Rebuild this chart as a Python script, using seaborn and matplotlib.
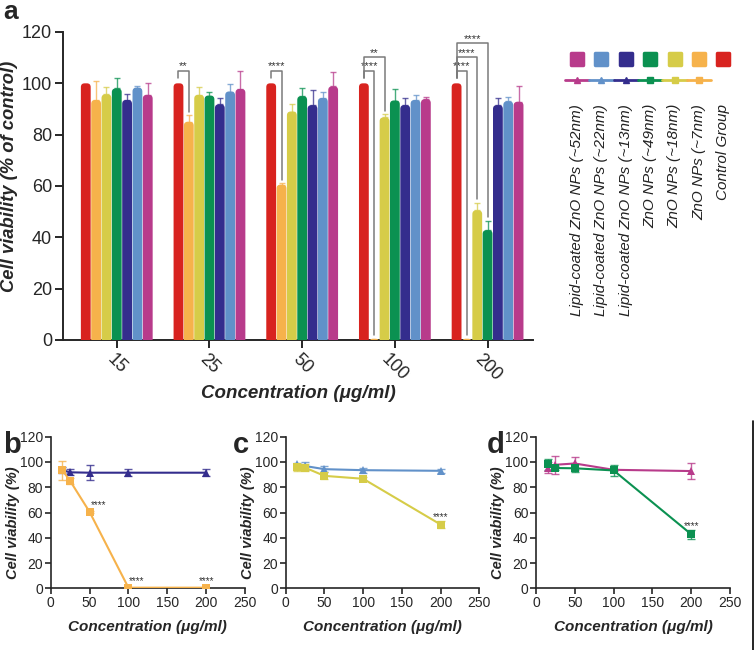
import pandas as pd
import seaborn as sns
import matplotlib.pyplot as plt
from matplotlib.lines import Line2D
from matplotlib.markers import MarkerStyle
from matplotlib.patches import FancyBboxPatch

# data
concs = [15, 25, 50, 100, 200]
conc_labels = ["15", "25", "50", "100", "200"]

groups = ["Control Group", "ZnO NPs (~7nm)", "ZnO NPs (~18nm)", "ZnO NPs (~49nm)",
          "Lipid-coated ZnO NPs (~13nm)", "Lipid-coated ZnO NPs (~22nm)",
          "Lipid-coated ZnO NPs (~52nm)"]
colors = ["#d8231f", "#f6b24b", "#d6cc48", "#0b9151", "#342d8d", "#6191c9", "#b83b8b"]

control_mean = [100, 100, 100, 100, 100]
control_sd = [0, 0, 0, 0, 0]
zno7_mean = [93.5, 85.0, 60.5, 0.5, 0.5]
zno7_sd = [7.5, 2.5, 0.5, 0, 0]
zno18_mean = [95.7, 95.5, 89.0, 86.7, 50.5]
zno18_sd = [2.8, 3.0, 2.8, 1.2, 3.0]
zno49_mean = [98.0, 95.2, 95.0, 93.3, 42.8]
zno49_sd = [4.0, 1.5, 3.0, 4.5, 3.5]
lip13_mean = [93.5, 91.8, 91.5, 91.5, 91.5]
lip13_sd = [2.5, 2.5, 5.8, 2.8, 2.7]
lip22_mean = [98.3, 96.8, 94.3, 93.5, 93.0]
lip22_sd = [0.5, 3.0, 2.5, 2.0, 1.5]
lip52_mean = [95.5, 97.8, 98.8, 93.8, 92.8]
lip52_sd = [4.5, 7.0, 5.5, 1.0, 6.0]

means = [control_mean, zno7_mean, zno18_mean, zno49_mean, lip13_mean, lip22_mean, lip52_mean]
sds = [control_sd, zno7_sd, zno18_sd, zno49_sd, lip13_sd, lip22_sd, lip52_sd]

# significance vs control in panel a
sig_conc = ["25", "50", "100", "100", "200", "200", "200"]
sig_group = [1, 1, 1, 2, 1, 2, 3]
sig_level = [0, 0, 0, 1, 0, 1, 2]
sig_text = ["**", "****", "****", "**", "****", "****", "****"]

rows = []
for g, m, s in zip(groups, means, sds):
    for c, cl, v, e in zip(concs, conc_labels, m, s):
        rows.append({"Group": g, "Conc": c, "ConcLabel": cl, "Viability": v, "SD": e})
df = pd.DataFrame(rows)

sns.set_style("ticks")
plt.rcParams["font.family"] = ["Liberation Sans", "DejaVu Sans"]
plt.rcParams["axes.linewidth"] = 1.4

W, H = 756, 650
fig = plt.figure(figsize=(W / 100, H / 100), dpi=100)


def rect(x0, y0, x1, y1):
    return [x0 / W, 1 - y1 / H, (x1 - x0) / W, (y1 - y0) / H]


# ---------- panel a ----------
ax = fig.add_axes(rect(63, 32, 533, 340))
sns.barplot(data=df, x="ConcLabel", y="Viability", hue="Group", order=conc_labels,
            hue_order=groups, palette=colors, saturation=1, width=0.78, gap=0.05,
            errorbar=None, legend=False, ax=ax)
xlim = (-0.58, 4.49)
ax.set_xlim(*xlim)
ax.set_ylim(0, 120)
aspect = (120 / (340 - 32)) / ((xlim[1] - xlim[0]) / (533 - 63))

centers = {}
bar_conts = list(ax.containers)
for k, cont in enumerate(bar_conts):
    for i, bar in enumerate(cont):
        x, w, h = bar.get_x(), bar.get_width(), bar.get_height()
        bar.set_visible(False)
        ax.add_patch(FancyBboxPatch((x, -5), w, h + 5,
                                    boxstyle=f"round,pad=0,rounding_size={w * 0.38}",
                                    mutation_aspect=aspect, fc=colors[k], ec="none",
                                    zorder=3))
        centers[(conc_labels[i], k)] = x + w / 2
        if sds[k][i] > 0:
            ax.errorbar(x + w / 2, h, yerr=[[0], [sds[k][i]]], color=colors[k],
                        alpha=0.75, lw=1, capsize=2, capthick=1, zorder=2)

for cl, gi, lev, txt in zip(sig_conc, sig_group, sig_level, sig_text):
    x0 = centers[(cl, 0)]
    x1 = centers[(cl, gi)]
    i = conc_labels.index(cl)
    hy = 105 + 5.3 * lev
    yb = means[gi][i] + sds[gi][i] + 1.5
    ax.plot([x0, x0, x1, x1], [102, hy, hy, yb], color="#7a7a7a", lw=1.1,
            zorder=4, clip_on=False)
    ax.text((x0 + x1) / 2, hy - 0.3, txt, ha="center", va="bottom", fontsize=8,
            color="#333333")

sns.despine(ax=ax)
ax.set_yticks(range(0, 121, 20))
ax.tick_params(axis="both", labelsize=13, length=6, width=1.4, pad=2)
plt.setp(ax.get_xticklabels(), rotation=-45, ha="center")
ax.set_xlabel("Concentration (μg/ml)", fontsize=13.5, fontweight="bold", style="italic",
              labelpad=0)
ax.set_ylabel("Cell viability (% of control)", fontsize=13.2, fontweight="bold",
              style="italic")
ax.yaxis.set_label_coords(-0.095, (340 - 176) / 308)
fig.text(3 / W, 1 - 12 / H, "a", fontsize=19, fontweight="bold", va="center", ha="left")

# legend drawn at the right of panel a
leg_order = [6, 5, 4, 3, 2, 1, 0]
for j, k in enumerate(leg_order):
    xc = (577 + 24.4 * j) / W
    fig.add_artist(Line2D([xc], [1 - 59 / H], marker=MarkerStyle("s", joinstyle="round"),
                          markersize=8, color=colors[k], mec=colors[k], mew=2.5, ls="none"))
    if k != 0:
        mk = "^" if "Lipid" in groups[k] else "s"
        fig.add_artist(Line2D([xc - 12.2 / W, xc + 12.2 / W], [1 - 80 / H] * 2,
                              color=colors[k], lw=2))
        fig.add_artist(Line2D([xc], [1 - 80 / H], marker=mk, markersize=5,
                              color=colors[k], ls="none"))
    fig.text(xc, 1 - 104 / H, groups[k], rotation=90, ha="center", va="top",
             fontsize=11, style="italic", color="#222222")

# ---------- panels b, c, d ----------
pairs = [(4, 1), (5, 2), (6, 3)]
panel_rects = [rect(50.7, 436.7, 245, 588.3), rect(285.7, 436.7, 479.3, 588.3),
               rect(536, 436.7, 730, 588.3)]
stars = [[(50, 62, 11), (100, 1.5, 11), (200, 1.5, 0)], [(200, 0, 0)], [(200, 0, 0)]]
letters = [("b", 3), ("c", 233), ("d", 487)]

for (a, b), r, st, (lt, lx) in zip(pairs, panel_rects, stars, letters):
    axp = fig.add_axes(r)
    sub = df[df["Group"].isin([groups[a], groups[b]])]
    sns.lineplot(data=sub, x="Conc", y="Viability", hue="Group", style="Group",
                 hue_order=[groups[a], groups[b]], palette=[colors[a], colors[b]],
                 markers={groups[a]: "^", groups[b]: "s"}, dashes=False,
                 markersize=6, markeredgewidth=0, lw=1.5, errorbar=None,
                 legend=False, ax=axp, zorder=3)
    for k in (a, b):
        axp.errorbar(concs, means[k], yerr=sds[k], fmt="none", ecolor=colors[k],
                     alpha=0.8, lw=1, capsize=3, capthick=1, zorder=2)
    for xs, ys, dx in st:
        i = concs.index(xs)
        yy = ys if ys else means[b][i] + sds[b][i] - 1
        axp.text(xs + dx, yy, "****", ha="center", va="bottom", fontsize=7,
                 color="#333333")
    axp.set_xlim(0, 250)
    axp.set_ylim(0, 120)
    axp.set_xticks(range(0, 251, 50))
    axp.set_yticks(range(0, 121, 20))
    sns.despine(ax=axp)
    axp.tick_params(axis="both", labelsize=10, length=4, width=1.2, pad=1.5)
    for s in axp.spines.values():
        s.set_linewidth(1.2)
    axp.set_xlabel("Concentration (μg/ml)", fontsize=11, fontweight="bold",
                   style="italic", labelpad=7)
    axp.set_ylabel("Cell viability (%)", fontsize=10.5, fontweight="bold",
                   style="italic", labelpad=0)
    axp.yaxis.set_label_coords(-0.16, (588.3 - 523) / 151.6)
    fig.text(lx / W, 1 - 445 / H, lt, fontsize=21, fontweight="bold", va="center",
             ha="left")

fig.add_artist(Line2D([753 / W, 753 / W], [0, 1 - 421 / H], color="black", lw=1.2))

fig.savefig("out.png", dpi=100)
